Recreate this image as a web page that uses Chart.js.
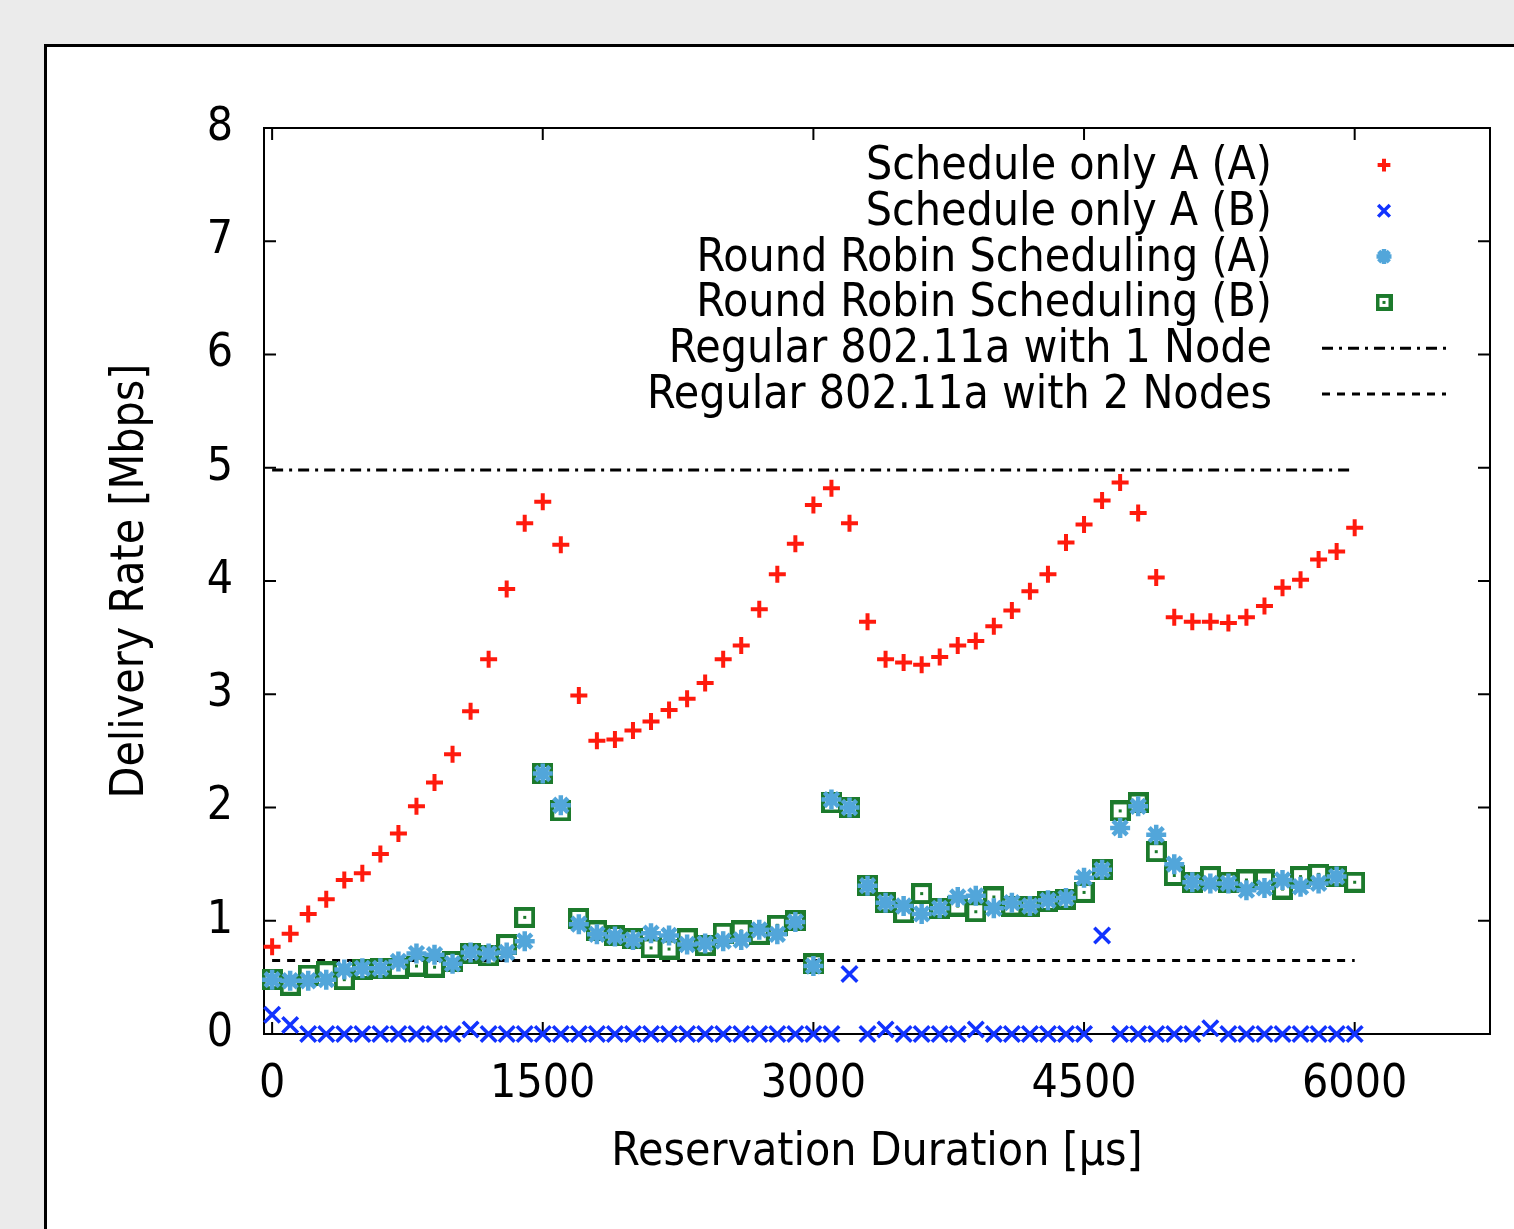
<!DOCTYPE html>
<html>
<head>
<meta charset="utf-8">
<script src="https://cdn.jsdelivr.net/npm/chart.js@4/dist/chart.umd.min.js"></script>
<style>
  body { margin: 0; background: #ebebeb; width: 1514px; height: 1229px; overflow: hidden; position: relative; }
  #panel { position: absolute; left: 44px; top: 44px; width: 2000px; height: 2000px; background: #fff; border: 3px solid #000; }
  #myChart { position: absolute; left: 0; top: 0; }
</style>
</head>
<body>
<div id="panel"></div>
<canvas id="myChart" width="1514" height="1229"></canvas>
<script>
// reservation duration in microseconds
var durations = [0, 100, 200, 300, 400, 500, 600, 700, 800, 900,
  1000, 1100, 1200, 1300, 1400, 1500, 1600, 1700, 1800, 1900,
  2000, 2100, 2200, 2300, 2400, 2500, 2600, 2700, 2800, 2900,
  3000, 3100, 3200, 3300, 3400, 3500, 3600, 3700, 3800, 3900,
  4000, 4100, 4200, 4300, 4400, 4500, 4600, 4700, 4800, 4900,
  5000, 5100, 5200, 5300, 5400, 5500, 5600, 5700, 5800, 5900, 6000]

var onlyA_A = [0.77, 0.885, 1.06, 1.19, 1.36, 1.42, 1.59, 1.77, 2.01, 2.22,
  2.47, 2.85, 3.31, 3.93, 4.51, 4.70, 4.32, 2.99, 2.59, 2.60,
  2.68, 2.76, 2.86, 2.96, 3.10, 3.31, 3.43, 3.75, 4.06, 4.33,
  4.67, 4.82, 4.51, 3.64, 3.31, 3.28, 3.26, 3.33, 3.43, 3.47,
  3.60, 3.74, 3.91, 4.06, 4.34, 4.50, 4.71, 4.87, 4.60, 4.03,
  3.68, 3.64, 3.64, 3.63, 3.68, 3.78, 3.94, 4.01, 4.19, 4.26, 4.47]

var onlyA_B = [0.17, 0.08, 0, 0, 0, 0, 0, 0, 0, 0,
  0, 0.04, 0, 0, 0, 0, 0, 0, 0, 0,
  0, 0, 0, 0, 0, 0, 0, 0, 0, 0,
  0, 0, 0.53, 0, 0.04, 0, 0, 0, 0, 0.04,
  0, 0, 0, 0, 0, 0, 0.87, 0, 0, 0,
  0, 0, 0.05, 0, 0, 0, 0, 0, 0, 0, 0]

var roundRobin_A = [0.48, 0.47, 0.47, 0.48, 0.57, 0.58, 0.58, 0.64, 0.71, 0.70,
  0.62, 0.72, 0.71, 0.72, 0.82, 2.30, 2.02, 0.97, 0.88, 0.86,
  0.83, 0.89, 0.87, 0.79, 0.80, 0.82, 0.83, 0.92, 0.88, 0.99,
  0.60, 2.07, 2.00, 1.31, 1.16, 1.13, 1.06, 1.11, 1.21, 1.22,
  1.11, 1.16, 1.13, 1.18, 1.20, 1.38, 1.45, 1.82, 2.01, 1.76,
  1.50, 1.34, 1.33, 1.33, 1.27, 1.29, 1.36, 1.30, 1.33, 1.39, null]

var roundRobin_B = [0.48, 0.43, 0.52, 0.55, 0.48, 0.57, 0.58, 0.58, 0.60, 0.59,
  0.64, 0.71, 0.69, 0.79, 1.03, 2.30, 1.97, 1.02, 0.91, 0.87,
  0.84, 0.76, 0.75, 0.84, 0.78, 0.89, 0.91, 0.88, 0.96, 1.00,
  0.62, 2.04, 2.00, 1.31, 1.16, 1.07, 1.24, 1.11, 1.13, 1.08,
  1.21, 1.13, 1.13, 1.17, 1.19, 1.25, 1.45, 1.97, 2.04, 1.61,
  1.40, 1.34, 1.39, 1.34, 1.36, 1.36, 1.28, 1.39, 1.41, 1.39, 1.34]

// reference lines for plain 802.11a
var lineSpan = [0, 6000]
var oneNodeRate = [4.98, 4.98]
var twoNodeRate = [0.65, 0.65]

var xTicks = [0, 1500, 3000, 4500, 6000]

var FONT = "'DejaVu Sans Condensed', 'DejaVu Sans', sans-serif"

function pts(xs, ys) {
  return xs.map((x, i) => ({x: x, y: ys[i]}))
}

function boxDot(color, size) {
  var c = document.createElement('canvas')
  c.width = size; c.height = size
  var g = c.getContext('2d')
  g.strokeStyle = color
  g.lineWidth = 4
  g.strokeRect(2, 2, size - 4, size - 4)
  g.fillStyle = color
  g.fillRect(size / 2 - 1.5, size / 2 - 1.5, 3, 3)
  return c
}

var green = '#1c7a2c'
var boxImg = boxDot(green, 21)
var boxKey = boxDot(green, 17)

// gnuplot style frame with inward ticks on every side
var framePlugin = {
  id: 'frame',
  beforeDatasetsDraw(chart) {
    var ctx = chart.ctx, a = chart.chartArea
    var xs = chart.scales.x, ys = chart.scales.y
    ctx.save()
    ctx.strokeStyle = '#000'
    ctx.lineWidth = 2
    ctx.strokeRect(a.left, a.top, a.right - a.left, a.bottom - a.top)
    ctx.beginPath()
    ys.ticks.forEach(t => {
      var y = ys.getPixelForValue(t.value)
      ctx.moveTo(a.left, y); ctx.lineTo(a.left + 12, y)
      ctx.moveTo(a.right, y); ctx.lineTo(a.right - 12, y)
    })
    xs.ticks.forEach(t => {
      var x = xs.getPixelForValue(t.value)
      ctx.moveTo(x, a.bottom); ctx.lineTo(x, a.bottom - 12)
      ctx.moveTo(x, a.top); ctx.lineTo(x, a.top + 12)
    })
    ctx.stroke()
    ctx.restore()
  }
}

// right aligned key, sample on the right
var keyPlugin = {
  id: 'key',
  afterDraw(chart) {
    var ctx = chart.ctx
    var textRight = 1272, sampleX = 1384, top = 165, step = 45.8
    ctx.save()
    ctx.font = '46px ' + FONT
    ctx.textAlign = 'right'
    ctx.textBaseline = 'middle'
    chart.data.datasets.forEach((ds, i) => {
      var y = top + i * step
      ctx.fillStyle = '#000'
      ctx.fillText(ds.label, textRight, y + 2)
      if (ds.showLine) {
        ctx.strokeStyle = ds.borderColor
        ctx.lineWidth = ds.borderWidth
        ctx.setLineDash(ds.borderDash)
        ctx.beginPath()
        ctx.moveTo(1322, y); ctx.lineTo(1446, y)
        ctx.stroke()
        ctx.setLineDash([])
      } else {
        ctx.strokeStyle = ds.borderColor
        ctx.fillStyle = ds.backgroundColor
        ctx.lineWidth = ds.pointBorderWidth
        Chart.helpers.drawPoint(ctx, {
          pointStyle: ds.pointStyle === boxImg ? boxKey : ds.pointStyle,
          radius: ds.pointRadius * 0.75,
          borderWidth: ds.pointBorderWidth,
          rotation: 0
        }, sampleX, y)
      }
    })
    ctx.restore()
  }
}

var ctx = document.getElementById('myChart').getContext('2d')
var chart = new Chart(ctx, {
  type: 'scatter',
  data: {
    datasets: [{
      label: 'Schedule only A (A)',
      data: pts(durations, onlyA_A),
      pointStyle: 'cross',
      pointRadius: 8.5,
      pointBorderWidth: 4,
      borderColor: '#ff1a0d',
      backgroundColor: '#ff1a0d',
      clip: false
    }, {
      label: 'Schedule only A (B)',
      data: pts(durations, onlyA_B),
      pointStyle: 'crossRot',
      pointRadius: 11,
      pointBorderWidth: 3.5,
      borderColor: '#1233ff',
      backgroundColor: '#1233ff',
      clip: false
    }, {
      label: 'Round Robin Scheduling (A)',
      data: pts(durations, roundRobin_A),
      pointStyle: 'star',
      pointRadius: 10,
      pointBorderWidth: 4.5,
      borderColor: '#52a6da',
      backgroundColor: '#52a6da',
      clip: false
    }, {
      label: 'Round Robin Scheduling (B)',
      data: pts(durations, roundRobin_B),
      pointStyle: boxImg,
      pointRadius: 10,
      pointBorderWidth: 3,
      borderColor: green,
      backgroundColor: green,
      clip: false
    }, {
      label: 'Regular 802.11a with 1 Node',
      data: pts(lineSpan, oneNodeRate),
      showLine: true,
      pointRadius: 0,
      borderColor: '#000',
      borderWidth: 3,
      borderDash: [11, 6, 3, 6]
    }, {
      label: 'Regular 802.11a with 2 Nodes',
      data: pts(lineSpan, twoNodeRate),
      showLine: true,
      pointRadius: 0,
      borderColor: '#000',
      borderWidth: 3,
      borderDash: [8, 7]
    }]
  },
  options: {
    responsive: false,
    devicePixelRatio: 1,
    animation: false,
    layout: { padding: { top: 128, right: 24, left: 0, bottom: 0 } },
    plugins: {
      legend: { display: false },
      tooltip: { enabled: false }
    },
    scales: {
      x: {
        type: 'linear',
        min: -45,
        max: 6750,
        afterBuildTicks: s => { s.ticks = xTicks.map(v => ({value: v})) },
        afterFit: s => { s.height = 195 },
        grid: { display: false },
        border: { display: false },
        ticks: {
          color: '#000', padding: 15, maxRotation: 0,
          callback: v => String(v),
          font: { family: FONT, size: 46 }
        },
        title: {
          display: true,
          text: 'Reservation Duration [µs]',
          color: '#000',
          padding: { top: 0, bottom: 48 },
          font: { family: FONT, size: 46 }
        }
      },
      y: {
        min: 0,
        max: 8,
        afterFit: s => { s.width = 264 },
        grid: { display: false },
        border: { display: false },
        ticks: { stepSize: 1, color: '#000', padding: 23, font: { family: FONT, size: 46 } },
        title: {
          display: true,
          text: 'Delivery Rate [Mbps]',
          color: '#000',
          padding: { top: 103, bottom: 0 },
          font: { family: FONT, size: 46 }
        }
      }
    }
  },
  plugins: [framePlugin, keyPlugin]
})
</script>
</body>
</html>
